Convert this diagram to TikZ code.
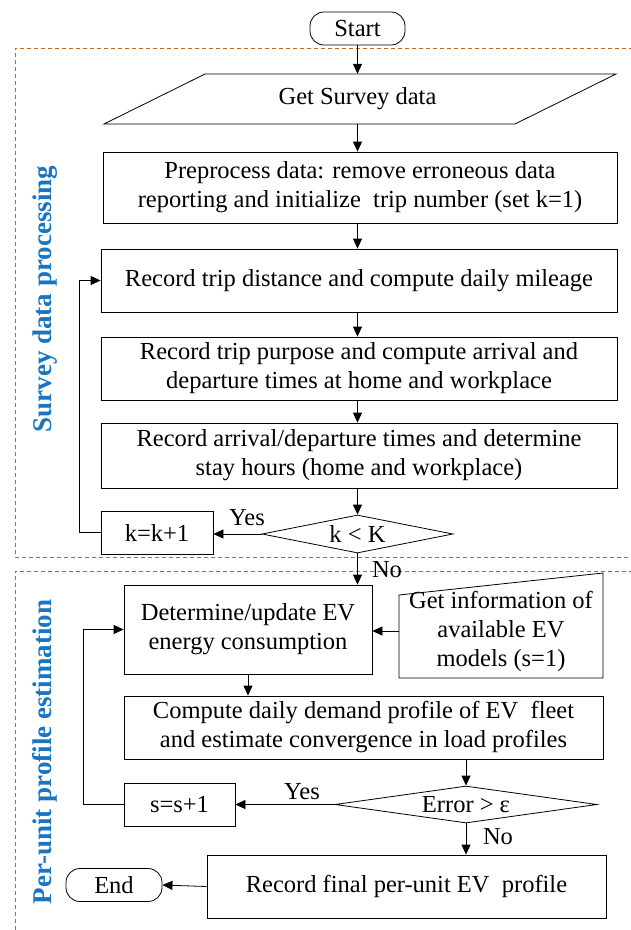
\documentclass[tikz,border=0pt]{standalone}
\usepackage{fontspec}
\setmainfont{Liberation Serif}
\usetikzlibrary{shapes.geometric,arrows.meta}
\definecolor{dashc}{HTML}{C0671F}
\definecolor{lblue}{HTML}{1A75C0}
\begin{document}
\begin{tikzpicture}[x=1pt,y=-1pt,
  every node/.style={font=\fontsize{24.5}{29}\selectfont, inner sep=0pt, align=center},
  box/.style={draw, line width=0.8pt},
  term/.style={draw, line width=0.8pt, rounded corners=14pt},
  dec/.style={draw, diamond, aspect=5, line width=0.8pt},
  outl/.style={line width=0.8pt, line join=miter},
  arr/.style={line width=0.8pt, black, -{Triangle[length=10pt,width=9pt]}},
  brd/.style={dashc, line width=1pt, dash pattern=on 4pt off 3pt},
  lbl/.style={font=\fontsize{27}{32}\selectfont\bfseries, text=lblue, rotate=90}]
\useasboundingbox (0,0) rectangle (631,930);
\clip (0,0) rectangle (631,930);
\fill[white] (0,0) rectangle (631,930);
% dashed regions
\draw[brd] (640,48) -- (15,48) -- (15,557) -- (640,557);
\draw[brd] (640,571) -- (15,571) -- (15,940);
\node[lbl] (l1) at (45,299) {Survey data processing};
\node[lbl] (l2) at (45,752) {Per-unit profile estimation};
% nodes
\node[term, minimum width=95pt, minimum height=33pt] (start) at (357.5,28.5) {Start};
\node[minimum width=300pt, minimum height=50pt] (gs) at (357.5,99) {Get Survey data};
\draw[outl] (205,74) -- (616,74) -- (515,124) -- (104,124) -- cycle;
\node[box, minimum width=514pt, minimum height=71pt] (pre) at (360,187.5)
  {Preprocess data: remove erroneous data\\reporting and initialize\ \ trip number (set k=1)};
\node[box, minimum width=516pt, minimum height=63pt] (dist) at (359,280.5)
  {Record trip distance and compute daily mileage};
\node[box, minimum width=516pt, minimum height=63pt] (purp) at (359,368.5)
  {Record trip purpose and compute arrival and\\departure times at home and workplace};
\node[box, minimum width=516pt, minimum height=65pt] (arrv) at (359,455.5)
  {Record arrival/departure times and determine\\stay hours (home and workplace)};
\node[dec, minimum width=191pt, minimum height=38pt] (kK) at (357.5,534) {k < K};
\node[box, minimum width=112pt, minimum height=43pt] (kk) at (157,532.5) {k=k+1};
\node[box, minimum width=248pt, minimum height=89pt] (det) at (248,629.5)
  {Determine/update EV\\energy consumption};
\node[minimum width=204pt, minimum height=92pt] (gi) at (501,631)
  {Get information of\\available EV\\models (s=1)};
\draw[outl] (399,595) -- (603,573) -- (603,678) -- (399,678) -- cycle;
\node[box, minimum width=479pt, minimum height=63pt] (comp) at (363.5,727.5)
  {Compute daily demand profile of EV\ \ fleet\\and estimate convergence in load profiles};
\node[dec, minimum width=262pt, minimum height=37pt] (err) at (466,804.5) {Error > ε};
\node[box, minimum width=111pt, minimum height=43pt] (ss) at (179.5,804.5) {s=s+1};
\node[box, minimum width=399pt, minimum height=63pt] (fin) at (406.5,886.5)
  {Record final per-unit EV\ \ profile};
\node[term, minimum width=96pt, minimum height=33pt] (endn) at (114,885) {End};
% labels
\node (y1) at (247,518) {Yes};
\node (n1) at (387,570) {No};
\node (y2) at (302,792) {Yes};
\node (n2) at (498,837) {No};
% connectors
\draw[arr] (start.south) -- (gs.north);
\draw[arr] (gs.south) -- (gs.south |- pre.north);
\draw[arr] (pre.south -| gs.south) -- (gs.south |- dist.north);
\draw[arr] (dist.south -| gs.south) -- (gs.south |- purp.north);
\draw[arr] (purp.south -| gs.south) -- (gs.south |- arrv.north);
\draw[arr] (arrv.south -| kK.north) -- (kK.north);
\draw[arr] (kK.west) -- (kK.west -| kk.east);
\draw[arr] (kk.west) -- ++(-21,0) |- (dist.west);
\draw[arr] (kK.south) -- (kK.south |- det.north);
\draw[arr] (gi.west) -- (gi.west -| det.east);
\draw[arr] (det.south) -- (det.south |- comp.north);
\draw[arr] (comp.south -| err.north) -- (err.north);
\draw[arr] (err.west) -- (err.west -| ss.east);
\draw[arr] (ss.west) -- ++(-40,0) |- (det.west);
\draw[arr] (err.south) -- (err.south |- fin.north);
\draw[arr] (fin.west) -- (endn.east);
\end{tikzpicture}
\end{document}
